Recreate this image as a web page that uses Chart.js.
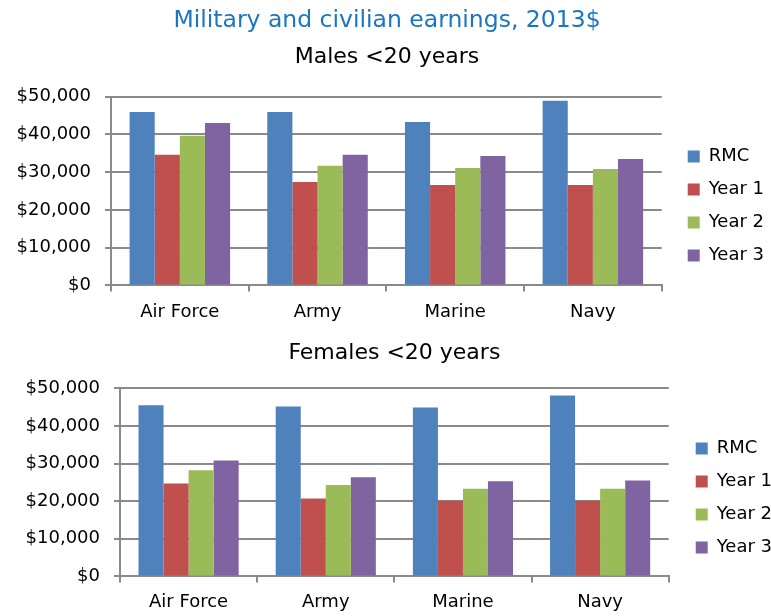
<!DOCTYPE html>
<html>
<head>
<meta charset="utf-8">
<script src="https://cdn.jsdelivr.net/npm/chart.js@4"></script>
<style>
  html, body { margin: 0; padding: 0; background: #fff; overflow: hidden; }
  #wrapMales { position: absolute; left: 0; top: 0; width: 775px; height: 333px; }
  #wrapFemales { position: absolute; left: 0; top: 330px; width: 782px; height: 292px; }
</style>
</head>
<body>
<div id="wrapMales"><canvas id="chartMales" width="775" height="333"></canvas></div>
<div id="wrapFemales"><canvas id="chartFemales" width="782" height="292"></canvas></div>
<script>
const categorias = ["Air Force", "Army", "Marine", "Navy"];
const series = ["RMC", "Year 1", "Year 2", "Year 3"];
const colores = ["#4F81BD", "#C0504D", "#9BBB59", "#8064A2"];
const yTicks = [0, 10000, 20000, 30000, 40000, 50000];

// hombres < 20
const malesRMC = [45900, 45900, 43300, 48900];
const malesYear1 = [34600, 27400, 26600, 26600];
const malesYear2 = [39600, 31700, 31100, 30800];
const malesYear3 = [43000, 34600, 34300, 33500];

// mujeres < 20
const femalesRMC = [45500, 45200, 44900, 48100];
const femalesYear1 = [24700, 20700, 20100, 20100];
const femalesYear2 = [28200, 24300, 23300, 23300];
const femalesYear3 = [30800, 26400, 25300, 25500];

const FONT = "'DejaVu Sans', sans-serif";
const GRIS = "#8a8a8a";

Chart.defaults.font.family = FONT;
Chart.defaults.color = "#000";

function formatoDolar(v) {
  return "$" + Number(v).toLocaleString("en-US");
}

function armarDatasets(valores) {
  const ds = [];
  for (let i = 0; i < series.length; i++) {
    ds.push({
      label: series[i],
      data: valores[i],
      backgroundColor: colores[i],
      borderWidth: 0,
      categoryPercentage: 0.73,
      barPercentage: 1
    });
  }
  return ds;
}

function pintarChart(id, cfg) {
  const ctx = document.getElementById(id).getContext("2d");

  return new Chart(ctx, {
    type: "bar",
    data: {
      labels: categorias,
      datasets: armarDatasets(cfg.valores)
    },
    options: {
      responsive: false,
      animation: false,
      devicePixelRatio: 1,
      layout: { padding: { left: 0, right: cfg.padRight, top: 0, bottom: cfg.padBottom } },
      plugins: {
        tooltip: { enabled: false },
        title: cfg.title,
        subtitle: cfg.subtitle,
        legend: {
          position: "right",
          fullSize: false,
          align: "center",
          title: { display: true, text: " ", font: { size: 10 }, padding: { top: 0, bottom: cfg.legendShift } },
          labels: {
            boxWidth: 12,
            boxHeight: 12,
            padding: 15,
            color: "#000",
            font: { size: 18, family: FONT }
          }
        }
      },
      scales: {
        x: {
          grid: {
            offset: true,
            drawOnChartArea: false,
            color: GRIS,
            lineWidth: 2,
            tickLength: 6
          },
          border: { color: GRIS, width: 2 },
          ticks: { padding: cfg.xPad, font: { size: 18 }, color: "#000" }
        },
        y: {
          min: 0,
          max: 50000,
          afterBuildTicks: function (s) {
            s.ticks = yTicks.map(function (v) { return { value: v }; });
          },
          afterFit: function (s) { s.width = cfg.yWidth; },
          grid: { color: GRIS, lineWidth: 2, tickLength: 6 },
          border: { color: GRIS, width: 2 },
          ticks: {
            padding: 14,
            font: { size: 18 },
            color: "#000",
            callback: function (v) { return formatoDolar(v); }
          }
        },
        hueco: {
          position: "right",
          display: true,
          grid: { display: false },
          border: { display: false },
          ticks: { display: false },
          afterFit: function (s) { s.width = cfg.gap; }
        }
      }
    }
  });
}

pintarChart("chartMales", {
  valores: [malesRMC, malesYear1, malesYear2, malesYear3],
  title: {
    display: true,
    text: "Military and civilian earnings, 2013$",
    color: "#1a75c2",
    font: { size: 23.5, weight: "normal", family: FONT },
    padding: { top: 7, bottom: 4 }
  },
  subtitle: {
    display: true,
    text: "Males <20 years",
    color: "#000",
    font: { size: 22, weight: "normal", family: FONT },
    padding: { top: 5, bottom: 26 }
  },
  padRight: 1,
  padBottom: 0,
  xPad: 10,
  yWidth: 111,
  gap: 11,
  legendShift: 18
});

pintarChart("chartFemales", {
  valores: [femalesRMC, femalesYear1, femalesYear2, femalesYear3],
  title: {
    display: true,
    fullSize: false,
    text: "Females <20 years",
    color: "#000",
    font: { size: 22, weight: "normal", family: FONT },
    padding: { top: 10, bottom: 22 }
  },
  subtitle: { display: false },
  padRight: 0,
  padBottom: 0,
  xPad: 9,
  yWidth: 120,
  gap: 12,
  legendShift: 19
});
</script>
</body>
</html>
